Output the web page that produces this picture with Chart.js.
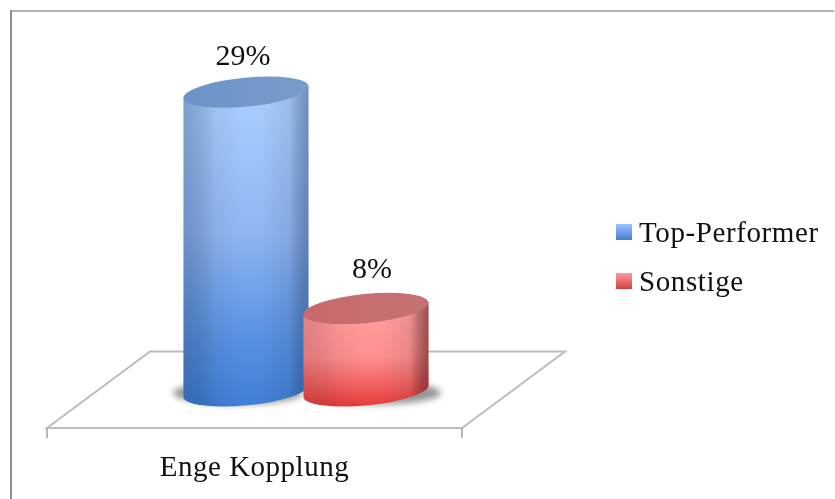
<!DOCTYPE html>
<html>
<head>
<meta charset="utf-8">
<style>html,body{margin:0;padding:0;background:#fff;overflow:hidden}canvas{display:block}</style>
<script src="https://cdn.jsdelivr.net/npm/chart.js@4"></script>
</head>
<body>
<canvas id="c" width="835" height="499"></canvas>
<script>
const categories = ["Enge Kopplung"];
const seriesNames = ["Top-Performer", "Sonstige"];
const topPerformer = [29];
const sonstige = [8];
const FONT = '"Liberation Serif", serif';

const looks = [
  { stops: [[0,'#a9cefd'],[0.45,'#8fb6f3'],[0.78,'#5a92e2'],[1,'#3f7fd6']],
    cap: ['#6b93c9','#7a9bcb'], edgeL: 'rgba(30,60,110,0.30)', edgeR: 'rgba(30,60,110,0.42)',
    swatch: ['#9dc3fb','#437fcf'], labelDx: -3, labelDy: -27 },
  { stops: [[0,'#ff9f9f'],[0.5,'#ff8f8f'],[0.8,'#f26060'],[1,'#e63c3c']],
    cap: ['#c9696b','#c37274'], edgeL: 'rgba(110,30,30,0.20)', edgeR: 'rgba(90,20,20,0.58)',
    swatch: ['#ff9c9c','#cf4040'], labelDx: 6, labelDy: -30 }
];

const cylinderPlugin = {
  id: 'cylinders',
  beforeDraw(chart) {
    chart.ctx.letterSpacing = '0.5px';
  },
  beforeDatasetsDraw(chart) {
    const ctx = chart.ctx, a = chart.chartArea, y = chart.scales.y;
    ctx.letterSpacing = '0px';
    // frame
    ctx.save();
    ctx.fillStyle = '#b3b3b3'; ctx.fillRect(10, 10, 824, 2);
    ctx.fillStyle = '#8c8c8c'; ctx.fillRect(10, 10, 2, 489);
    // floor
    const back = y.getPixelForValue(3.83), depth = 103;
    ctx.strokeStyle = '#bcbcbc'; ctx.lineWidth = 2;
    ctx.beginPath();
    ctx.moveTo(a.left, a.bottom);
    ctx.lineTo(a.left + depth, back);
    ctx.lineTo(a.right + depth, back);
    ctx.lineTo(a.right, a.bottom);
    ctx.closePath();
    ctx.stroke();
    ctx.strokeStyle = '#a0a0a0'; ctx.lineWidth = 1.5;
    ctx.beginPath();
    [a.left, a.right].forEach(x => { ctx.moveTo(x, a.bottom); ctx.lineTo(x, a.bottom + 10); });
    ctx.stroke();
    ctx.restore();

    const dx = 51.5, tilt = -0.096, ry = 14.5;
    chart.data.datasets.forEach((ds, i) => {
      const bar = chart.getDatasetMeta(i).data[0];
      const look = looks[i];
      const cx = bar.x + dx, w = bar.width, rx = w / 2 / Math.cos(tilt);
      const top = bar.y, base = bar.base;
      const s = Math.sin(tilt) * rx, L = cx - w / 2, R = cx + w / 2;
      // soft shadow
      ctx.save();
      ctx.filter = 'blur(3px)';
      ctx.fillStyle = 'rgba(90,90,90,0.65)';
      ctx.beginPath();
      ctx.ellipse(cx + (i ? 10 : -8), base + 2, rx + 2, ry - 3, 0, 0, Math.PI * 2);
      ctx.fill();
      ctx.restore();
      // body
      ctx.save();
      ctx.filter = 'blur(0.7px)';
      const path = () => {
        ctx.beginPath();
        ctx.moveTo(L, top - s);
        ctx.lineTo(L, base - s);
        ctx.ellipse(cx, base, rx, ry, tilt, Math.PI, 0, true);
        ctx.lineTo(R, top + s);
        ctx.closePath();
      };
      const g = ctx.createLinearGradient(0, top, 0, base + ry);
      look.stops.forEach(st => g.addColorStop(st[0], st[1]));
      ctx.fillStyle = g; path(); ctx.fill();
      ctx.restore();
      ctx.save();
      const h = ctx.createLinearGradient(L, 0, R, 0);
      h.addColorStop(0, look.edgeL);
      h.addColorStop(0.25, 'rgba(0,0,0,0.05)');
      h.addColorStop(0.45, 'rgba(0,0,0,0)');
      h.addColorStop(0.62, 'rgba(0,0,0,0)');
      h.addColorStop(0.85, 'rgba(0,0,0,0.08)');
      h.addColorStop(1, look.edgeR);
      ctx.fillStyle = h; path(); ctx.fill();
      ctx.restore();
      // cap
      ctx.save();
      ctx.filter = 'blur(0.7px)';
      const c = ctx.createLinearGradient(L, 0, R, 0);
      c.addColorStop(0, look.cap[0]); c.addColorStop(1, look.cap[1]);
      ctx.fillStyle = c;
      ctx.beginPath();
      ctx.ellipse(cx, top, rx, ry, tilt, 0, Math.PI * 2);
      ctx.fill();
      ctx.restore();
      // value label
      ctx.fillStyle = '#111';
      ctx.font = '30px ' + FONT;
      ctx.textAlign = 'center'; ctx.textBaseline = 'alphabetic';
      ctx.fillText(ds.data[0] + '%', cx + look.labelDx, top + look.labelDy);
    });
    // legend
    ctx.save();
    ctx.letterSpacing = '0.6px';
    chart.data.datasets.forEach((ds, i) => {
      const by = 224 + 49 * i;
      const g = ctx.createLinearGradient(0, by, 0, by + 16);
      g.addColorStop(0, looks[i].swatch[0]); g.addColorStop(1, looks[i].swatch[1]);
      ctx.fillStyle = g; ctx.fillRect(616, by, 16, 16);
      ctx.fillStyle = '#111';
      ctx.font = '29px ' + FONT;
      ctx.textAlign = 'left'; ctx.textBaseline = 'alphabetic';
      ctx.fillText(ds.label, 639, by + 18);
    });
    ctx.restore();
  }
};

new Chart(document.getElementById('c'), {
  type: 'bar',
  data: {
    labels: categories,
    datasets: [
      { label: seriesNames[0], data: topPerformer, backgroundColor: 'transparent' },
      { label: seriesNames[1], data: sonstige, backgroundColor: 'transparent' }
    ]
  },
  plugins: [cylinderPlugin],
  options: {
    responsive: false,
    animation: false,
    layout: { padding: { left: 47, right: 373, top: 20, bottom: 0 } },
    plugins: { legend: { display: false }, tooltip: { enabled: false } },
    datasets: { bar: { categoryPercentage: 240 / 415, barPercentage: 125 / 120 } },
    scales: {
      x: {
        grid: { display: false, drawTicks: false }, border: { display: false },
        afterFit(scale) { scale.height = 71; },
        ticks: { color: '#111', padding: 23, maxRotation: 0, autoSkip: false, font: { family: FONT, size: 29 } }
      },
      y: { display: false, min: -3.6, max: 36 }
    }
  }
});
</script>
</body>
</html>
